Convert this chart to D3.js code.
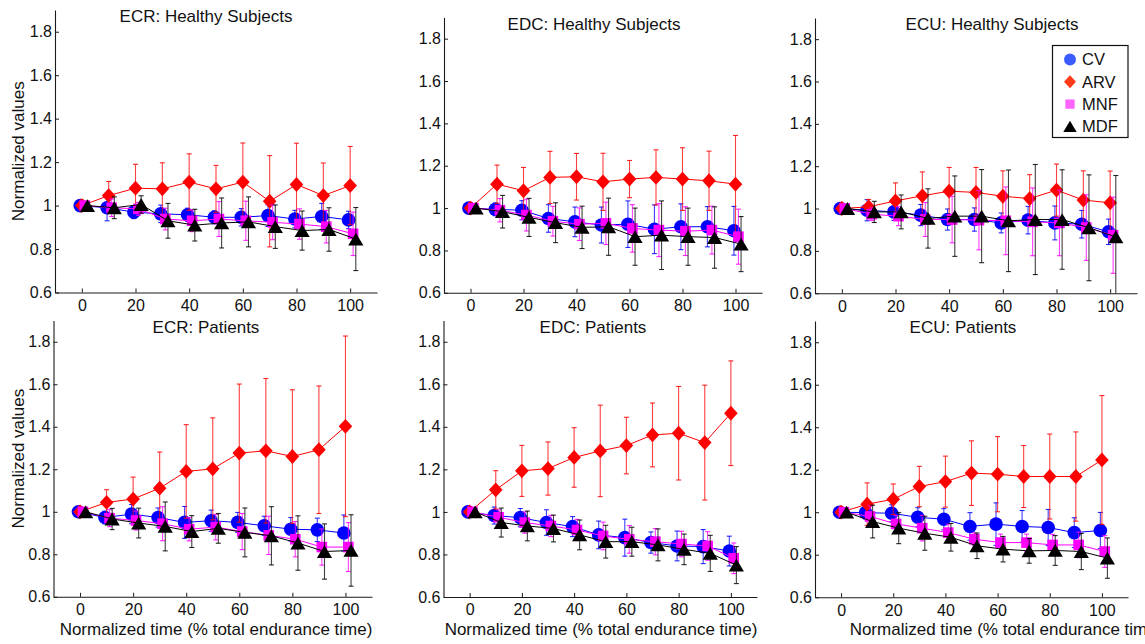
<!DOCTYPE html>
<html><head><meta charset="utf-8">
<script src="https://cdn.jsdelivr.net/npm/d3@7"></script>
<style>
body{margin:0;background:#fff}
svg{display:block;font-family:'Liberation Sans',Arial,sans-serif}
</style>
</head><body><svg id="c" width="1145" height="644"></svg>
<script>
// ---------------- DATA ----------------
const times = [0,10,20,30,40,50,60,70,80,90,100];
const seriesNames = ["CV","ARV","MNF","MDF"];
const panelTitles = ["ECR: Healthy Subjects","EDC: Healthy Subjects","ECU: Healthy Subjects",
                     "ECR: Patients","EDC: Patients","ECU: Patients"];
const yTickValues = [0.6,0.8,1,1.2,1.4,1.6,1.8];
const xTickValues = [0,20,40,60,80,100];
const yLabel = "Normalized values";
const xLabel = "Normalized time (% total endurance time)";

// ECR healthy
const ecrH_CV = [1.0,0.99,0.97,0.962,0.958,0.946,0.946,0.954,0.938,0.95,0.934];
const ecrH_CVsd = [0,0.06,0.03,0.04,0.03,0.03,0.04,0.05,0.04,0.06,0.04];
const ecrH_ARV = [1.0,1.046,1.08,1.077,1.108,1.077,1.108,1.02,1.097,1.046,1.092];
const ecrH_ARVsd = [0.025,0.065,0.11,0.12,0.13,0.108,0.18,0.21,0.19,0.15,0.18];
const ecrH_MNF = [1.0,0.99,0.985,0.938,0.93,0.938,0.93,0.923,0.915,0.903,0.87];
const ecrH_MNFsd = [0,0.04,0.03,0.05,0.05,0.08,0.09,0.08,0.07,0.075,0.1];
const ecrH_MDF = [1.0,0.99,1.005,0.93,0.91,0.92,0.925,0.903,0.885,0.89,0.846];
const ecrH_MDFsd = [0,0.05,0.04,0.08,0.073,0.115,0.115,0.1,0.09,0.1,0.145];
// EDC healthy
const edcH_CV = [1.0,0.994,0.99,0.951,0.935,0.92,0.924,0.9,0.912,0.912,0.893];
const edcH_CVsd = [0,0.03,0.045,0.065,0.07,0.085,0.11,0.115,0.108,0.095,0.115];
const edcH_ARV = [1.0,1.113,1.082,1.145,1.148,1.124,1.137,1.145,1.137,1.129,1.113];
const edcH_ARVsd = [0.025,0.09,0.11,0.123,0.11,0.135,0.088,0.13,0.148,0.14,0.23];
const edcH_MNF = [1.0,0.99,0.967,0.938,0.924,0.928,0.904,0.896,0.891,0.896,0.865];
const edcH_MNFsd = [0,0.055,0.075,0.07,0.077,0.1,0.112,0.125,0.115,0.113,0.13];
const edcH_MDF = [1.0,0.983,0.956,0.931,0.909,0.912,0.865,0.872,0.865,0.861,0.83];
const edcH_MDFsd = [0,0.077,0.09,0.094,0.1,0.135,0.135,0.162,0.135,0.145,0.13];
// ECU healthy
const ecuH_CV = [1.0,0.992,0.984,0.969,0.948,0.948,0.932,0.945,0.932,0.926,0.89];
const ecuH_CVsd = [0,0.05,0.04,0.05,0.05,0.055,0.047,0.065,0.08,0.065,0.06];
const ecuH_ARV = [1.0,1.008,1.036,1.06,1.082,1.076,1.058,1.047,1.087,1.04,1.027];
const ecuH_ARVsd = [0.025,0.035,0.085,0.113,0.112,0.118,0.12,0.113,0.123,0.138,0.15];
const ecuH_MNF = [1.0,0.973,0.964,0.948,0.948,0.945,0.942,0.937,0.932,0.91,0.874];
const ecuH_MNFsd = [0,0.03,0.045,0.08,0.11,0.14,0.16,0.16,0.155,0.155,0.18];
const ecuH_MDF = [1.0,0.984,0.984,0.953,0.964,0.964,0.942,0.948,0.948,0.909,0.866];
const ecuH_MDFsd = [0,0.05,0.08,0.14,0.19,0.22,0.24,0.26,0.235,0.25,0.29];
// ECR patients
const ecrP_CV = [1.0,0.973,0.989,0.973,0.95,0.958,0.95,0.934,0.918,0.915,0.9];
const ecrP_CVsd = [0,0.03,0.045,0.045,0.075,0.05,0.047,0.045,0.055,0.055,0.085];
const ecrP_ARV = [1.0,1.044,1.06,1.111,1.19,1.202,1.276,1.287,1.26,1.292,1.402];
const ecrP_ARVsd = [0.025,0.06,0.103,0.17,0.22,0.24,0.325,0.34,0.314,0.3,0.425];
const ecrP_MNF = [1.0,0.97,0.959,0.944,0.918,0.928,0.907,0.889,0.871,0.834,0.834];
const ecrP_MNFsd = [0,0.04,0.045,0.08,0.055,0.06,0.085,0.09,0.083,0.085,0.115];
const ecrP_MDF = [1.0,0.966,0.947,0.931,0.907,0.922,0.903,0.887,0.853,0.813,0.818];
const ecrP_MDFsd = [0,0.05,0.07,0.115,0.075,0.07,0.115,0.137,0.128,0.13,0.168];
// EDC patients
const edcP_CV = [1.0,0.983,0.973,0.95,0.931,0.892,0.879,0.856,0.84,0.837,0.816];
const edcP_CVsd = [0,0.04,0.043,0.06,0.047,0.065,0.087,0.05,0.07,0.08,0.07];
const edcP_ARV = [1.0,1.104,1.193,1.204,1.256,1.287,1.312,1.362,1.37,1.326,1.464];
const edcP_ARVsd = [0.025,0.09,0.12,0.125,0.14,0.215,0.133,0.15,0.22,0.27,0.246];
const edcP_MNF = [1.0,0.975,0.95,0.934,0.915,0.887,0.871,0.86,0.849,0.84,0.782];
const edcP_MNFsd = [0,0.035,0.05,0.05,0.05,0.065,0.065,0.062,0.06,0.067,0.072];
const edcP_MDF = [1.0,0.95,0.934,0.922,0.892,0.86,0.86,0.845,0.824,0.805,0.75];
const edcP_MDFsd = [0,0.068,0.07,0.063,0.07,0.077,0.068,0.075,0.072,0.085,0.087];
// ECU patients
const ecuP_CV = [1.0,0.998,0.995,0.976,0.967,0.933,0.944,0.933,0.928,0.904,0.914];
const ecuP_CVsd = [0,0.03,0.04,0.045,0.05,0.065,0.1,0.075,0.085,0.07,0.085];
const ecuP_ARV = [1.0,1.038,1.061,1.121,1.144,1.184,1.179,1.168,1.168,1.168,1.246];
const ecuP_ARVsd = [0.025,0.1,0.072,0.095,0.12,0.152,0.177,0.146,0.2,0.21,0.303];
const ecuP_MNF = [1.0,0.98,0.945,0.925,0.904,0.873,0.857,0.857,0.846,0.846,0.815];
const ecuP_MNFsd = [0,0.05,0.04,0.06,0.04,0.03,0.04,0.04,0.05,0.06,0.075];
const ecuP_MDF = [1.0,0.956,0.925,0.901,0.882,0.842,0.826,0.818,0.82,0.815,0.784];
const ecuP_MDFsd = [0,0.077,0.073,0.08,0.065,0.06,0.06,0.058,0.07,0.085,0.095];

// ---------------- STYLE / LAYOUT ----------------
const style = {
  CV:  {color:"#0000ff", legendColor:"#3c5cff", shift:-0.6, marker:"circle"},
  ARV: {color:"#ff0000", legendColor:"#ff3a1a", shift:0,    marker:"diamond"},
  MNF: {color:"#ff00ff", legendColor:"#ff66ff", shift:1.1,  marker:"square"},
  MDF: {color:"#000000", legendColor:"#000000", shift:2.1,  marker:"triangle"}
};

const panelData = [
  {CV:[ecrH_CV,ecrH_CVsd],ARV:[ecrH_ARV,ecrH_ARVsd],MNF:[ecrH_MNF,ecrH_MNFsd],MDF:[ecrH_MDF,ecrH_MDFsd]},
  {CV:[edcH_CV,edcH_CVsd],ARV:[edcH_ARV,edcH_ARVsd],MNF:[edcH_MNF,edcH_MNFsd],MDF:[edcH_MDF,edcH_MDFsd]},
  {CV:[ecuH_CV,ecuH_CVsd],ARV:[ecuH_ARV,ecuH_ARVsd],MNF:[ecuH_MNF,ecuH_MNFsd],MDF:[ecuH_MDF,ecuH_MDFsd]},
  {CV:[ecrP_CV,ecrP_CVsd],ARV:[ecrP_ARV,ecrP_ARVsd],MNF:[ecrP_MNF,ecrP_MNFsd],MDF:[ecrP_MDF,ecrP_MDFsd]},
  {CV:[edcP_CV,edcP_CVsd],ARV:[edcP_ARV,edcP_ARVsd],MNF:[edcP_MNF,edcP_MNFsd],MDF:[edcP_MDF,edcP_MDFsd]},
  {CV:[ecuP_CV,ecuP_CVsd],ARV:[ecuP_ARV,ecuP_ARVsd],MNF:[ecuP_MNF,ecuP_MNFsd],MDF:[ecuP_MDF,ecuP_MDFsd]}
];

const layout = [
  {left:55,  right:377,  top:10,   bottom:292.5, titleX:206, yLab:true,  xLab:null},
  {left:444, right:762,  top:17.5, bottom:292.8, titleX:594, yLab:false, xLab:null},
  {left:815, right:1137, top:18,   bottom:293.2, titleX:992, yLab:false, xLab:null},
  {left:53.5,right:372,  top:320.5,bottom:596.8, titleX:206, yLab:true,  xLab:216},
  {left:443.5,right:757, top:320.5,bottom:597,   titleX:593, yLab:false, xLab:601},
  {left:815, right:1128, top:321,  bottom:597.2, titleX:963, yLab:false, xLab:1006}
];

const svg = d3.select("#c");

function drawMarker(g, type, x, y, color, scale=1){
  if(type==="circle"){
    g.append("circle").attr("cx",x).attr("cy",y).attr("r",6.8*scale).attr("fill",color);
  } else if(type==="diamond"){
    const w=6.8*scale,h=7.4*scale;
    g.append("path").attr("d",`M${x},${y-h}L${x+w},${y}L${x},${y+h}L${x-w},${y}Z`).attr("fill",color);
  } else if(type==="square"){
    const s=5.3*scale;
    g.append("rect").attr("x",x-s).attr("y",y-s).attr("width",2*s).attr("height",2*s).attr("fill",color);
  } else {
    const w=7.6*scale,h=6.4*scale;
    g.append("path").attr("d",`M${x},${y-h}L${x+w},${y+h}L${x-w},${y+h}Z`).attr("fill",color);
  }
}

layout.forEach((L,pi)=>{
  const x = d3.scaleLinear().domain([-10,110]).range([L.left,L.right]);
  const y = d3.scaleLinear().domain([0.6,1.9]).range([L.bottom,L.top]).clamp(true);
  const g = svg.append("g");

  // axes
  const xa = g.append("g").attr("transform",`translate(0,${L.bottom})`)
    .call(d3.axisBottom(x).tickValues(xTickValues).tickSizeInner(-4).tickSizeOuter(0).tickPadding(7).tickFormat(d3.format("d")));
  const ya = g.append("g").attr("transform",`translate(${L.left},0)`)
    .call(d3.axisLeft(y).tickValues(yTickValues).tickSizeInner(-4).tickSizeOuter(0).tickPadding(3).tickFormat(d=>String(d)));
  [xa,ya].forEach(a=>{
    a.selectAll("path.domain").attr("stroke","#1a1a1a").attr("stroke-width",1.1);
    a.selectAll(".tick line").attr("stroke","#1a1a1a");
    a.selectAll(".tick text").attr("font-size",16).attr("fill","#111")
      .attr("font-family","'Liberation Sans',Arial,sans-serif");
  });

  // title
  g.append("text").attr("x",L.titleX).attr("y",L.top+12).attr("text-anchor","middle")
    .attr("font-size",17).attr("fill","#111").text(panelTitles[pi]);
  if(L.yLab){
    g.append("text").attr("transform",`translate(24,${(L.top+L.bottom)/2}) rotate(-90)`)
      .attr("text-anchor","middle").attr("font-size",17).attr("fill","#111").text(yLabel);
  }
  if(L.xLab!==null){
    g.append("text").attr("x",L.xLab).attr("y",L.bottom+38).attr("text-anchor","middle")
      .attr("font-size",17).attr("fill","#111").text(xLabel);
  }

  // series
  seriesNames.forEach(name=>{
    const st = style[name];
    const [mean,sd] = panelData[pi][name];
    const pts = times.map((t,i)=>({x:x(t+st.shift), m:mean[i], s:sd[i]}));
    const sg = g.append("g");
    // error bars
    pts.forEach(p=>{
      if(p.s<=0) return;
      const y1=y(p.m+p.s), y2=y(p.m-p.s);
      sg.append("line").attr("x1",p.x).attr("x2",p.x).attr("y1",y1).attr("y2",y2)
        .attr("stroke",st.color).attr("stroke-width",1.1).attr("stroke-opacity",0.75);
      [y1,y2].forEach(yy=>{
        if(yy>=L.bottom-0.5) return;
        sg.append("line").attr("x1",p.x-2.5).attr("x2",p.x+2.5).attr("y1",yy).attr("y2",yy)
          .attr("stroke",st.color).attr("stroke-width",1.1).attr("stroke-opacity",0.85);
      });
    });
    // line
    sg.append("path").datum(pts)
      .attr("d",d3.line().x(p=>p.x).y(p=>y(p.m)))
      .attr("fill","none").attr("stroke",st.color).attr("stroke-width",1);
    pts.forEach(p=>drawMarker(sg, st.marker, p.x, y(p.m), st.color));
  });
});

// legend in ECU healthy panel
const lg = svg.append("g");
lg.append("rect").attr("x",1052.5).attr("y",45.5).attr("width",75.5).attr("height",92)
  .attr("fill","#fff").attr("stroke","#111").attr("stroke-width",1.2);
seriesNames.forEach((name,i)=>{
  const cy = 59.5 + i*22.3;
  drawMarker(lg, style[name].marker, 1070, cy, style[name].legendColor, 0.88);
  lg.append("text").attr("x",1082).attr("y",cy).attr("dy","0.36em")
    .attr("font-size",16.5).attr("fill","#111").text(name);
});
</script>
</body></html>
